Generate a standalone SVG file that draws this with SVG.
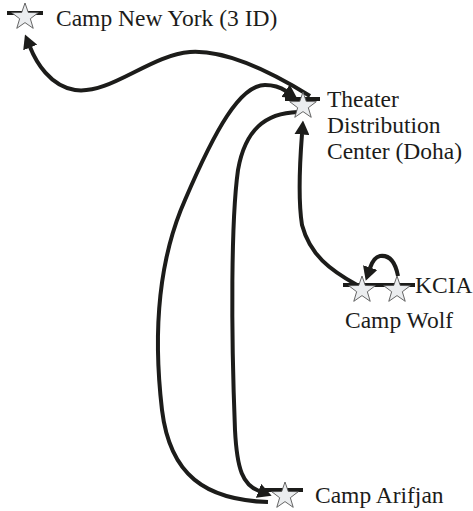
<svg xmlns="http://www.w3.org/2000/svg" width="473" height="511" viewBox="0 0 473 511">
<style>
.bg{fill:#ffffff}
.edge{fill:none;stroke:#1c1c1a;stroke-width:4;stroke-linecap:butt}
.bar{fill:#1c1c1a}
.star{fill:#ebedef;stroke:#555555;stroke-width:0.9;stroke-linejoin:miter}
.lbl{font-family:"Liberation Serif","Times New Roman",serif;font-size:23.5px;fill:#1c1c1a}
</style>
<defs>
<marker id="ah" markerUnits="userSpaceOnUse" viewBox="0 0 14 15" markerWidth="14" markerHeight="15" refX="0.5" refY="7.5" orient="auto">
<path d="M0,0 L14,7.5 L0,15 z" fill="#1c1c1a"/>
</marker>
<path id="star" d="M0,-14 L3.29,-4.53 L13.32,-4.33 L5.33,1.73 L8.23,11.33 L0,5.6 L-8.23,11.33 L-5.33,1.73 L-13.32,-4.33 L-3.29,-4.53 Z"/>
</defs>
<rect class="bg" x="0" y="0" width="473" height="511"/>
<g id="connectors">
<path class="edge" d="M310 96 C260 65,220 50,190 52 C150 55,110 95,75 90 C50 86,36 62,30 47" marker-end="url(#ah)"/>
<path class="edge" d="M268 502 C205 500,170 475,162 410 C155 350,154 270,185 200 C215 130,240 85,265 85 C275 85,280 87,286 91" marker-end="url(#ah)"/>
<path class="edge" d="M298 112 C265 113,245 130,238 170 C231 220,231 330,235 430 C237 470,243 485,259 491" marker-end="url(#ah)"/>
<path class="edge" d="M357 285 C330 270,310 255,302 225 C298 200,300 160,302 134" marker-end="url(#ah)"/>
<path class="edge" d="M398 276 C395 260,388 255,380 256 C375 257,372 262,370 268" marker-end="url(#ah)"/>
</g>
<g id="camp-new-york">
<rect class="bar" x="7" y="11" width="36" height="4"/>
<use href="#star" class="star" x="25" y="17"/>
<text class="lbl" x="56" y="26">Camp New York (3 ID)</text>
</g>
<g id="theater-distribution-center">
<rect class="bar" x="285" y="97" width="35" height="4"/>
<use href="#star" class="star" x="303" y="106"/>
<text class="lbl" x="327" y="107">Theater</text>
<text class="lbl" x="327" y="133">Distribution</text>
<text class="lbl" x="327" y="159">Center (Doha)</text>
</g>
<g id="camp-wolf-kcia">
<rect class="bar" x="343" y="283" width="72" height="4"/>
<use href="#star" class="star" x="362" y="290"/>
<use href="#star" class="star" x="397" y="290"/>
<text class="lbl" x="415" y="293">KCIA</text>
<text class="lbl" x="345" y="328">Camp Wolf</text>
</g>
<g id="camp-arifjan">
<rect class="bar" x="265" y="488" width="38" height="4"/>
<use href="#star" class="star" x="285" y="496"/>
<text class="lbl" x="315" y="503">Camp Arifjan</text>
</g>
</svg>
